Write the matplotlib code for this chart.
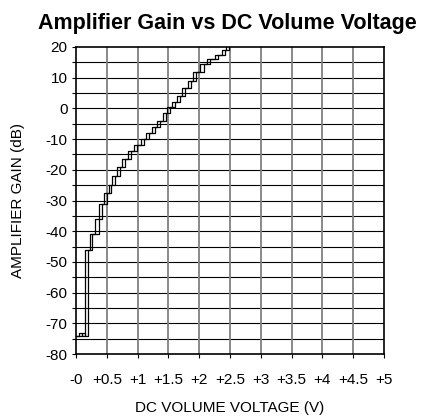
import matplotlib
matplotlib.use("Agg")
import matplotlib.pyplot as plt
from matplotlib.ticker import MultipleLocator, FixedLocator

plt.rcParams['font.family'] = ['Liberation Sans', 'DejaVu Sans']

# Gain levels (dB) of each step of the staircase
levels = [-74, -73.3, -74, -46, -41, -36, -31, -27.5, -25, -22, -19, -16.5, -14, -12,
          -10, -8, -6, -4, -1.5, 0.5, 2, 4, 6.5, 9, 12, 14.5, 16, 17.5, 19, 20.5]
# Voltage where each level begins, rising sweep
v_rise = [0.0, 0.05, 0.09, 0.15, 0.23, 0.31, 0.38, 0.45, 0.53, 0.58, 0.67, 0.75, 0.85, 0.94,
          1.05, 1.14, 1.23, 1.32, 1.41, 1.48, 1.56, 1.64, 1.72, 1.82, 1.90, 2.02, 2.13, 2.26, 2.37, 2.43]
# Voltage where each level begins, falling sweep
v_fall = [0.0, 0.10, 0.14, 0.20, 0.26, 0.37, 0.43, 0.51, 0.57, 0.63, 0.72, 0.80, 0.90, 0.99,
          1.10, 1.19, 1.28, 1.37, 1.46, 1.53, 1.61, 1.69, 1.77, 1.87, 1.95, 2.07, 2.18, 2.31, 2.42, 2.48]

x_ticks = [0, 0.5, 1, 1.5, 2, 2.5, 3, 3.5, 4, 4.5, 5]
x_tick_labels = ['-0', '+0.5', '+1', '+1.5', '+2', '+2.5', '+3', '+3.5', '+4', '+4.5', '+5']
y_ticks = [-80, -70, -60, -50, -40, -30, -20, -10, 0, 10, 20]

W, H = 422, 418
fig = plt.figure(figsize=(W / 100, H / 100), dpi=100)
ax = fig.add_axes([76 / W, 1 - 354 / H, (384 - 76) / W, (354 - 47) / H])

ax.set_xlim(0, 5)
ax.set_ylim(-80, 20)

# grid
for yv in range(-75, 20, 5):
    ax.axhline(yv, color='black', lw=0.8, zorder=1)
for xv in x_ticks[1:-1]:
    ax.axvline(xv, color='#808080', lw=1.3, zorder=1)

ax.step(v_rise + [2.6], levels + [levels[-1]], where='post', color='black', lw=0.9, zorder=3)
ax.step(v_fall + [2.6], levels + [levels[-1]], where='post', color='black', lw=0.9, zorder=3)

ax.xaxis.set_major_locator(FixedLocator(x_ticks))
ax.set_xticklabels(x_tick_labels)
ax.yaxis.set_major_locator(FixedLocator(y_ticks))
ax.set_yticklabels([str(v) for v in y_ticks])
ax.yaxis.set_minor_locator(MultipleLocator(5))
ax.tick_params(axis='both', which='both', direction='out', length=3, width=0.8,
               colors='black', labelsize=11)
ax.tick_params(axis='x', pad=11)
ax.tick_params(axis='y', pad=3)
for s in ax.spines.values():
    s.set_color('black')
    s.set_linewidth(1.2)

ax.set_xlabel('DC VOLUME VOLTAGE (V)', fontsize=11, labelpad=10)
ax.set_ylabel('AMPLIFIER GAIN (dB)', fontsize=11, labelpad=15)

fig.text(227 / W, 1 - 29 / H, 'Amplifier Gain vs DC Volume Voltage',
         ha='center', va='baseline', fontsize=15.5, fontweight='bold')

fig.savefig('out.png', dpi=100)
